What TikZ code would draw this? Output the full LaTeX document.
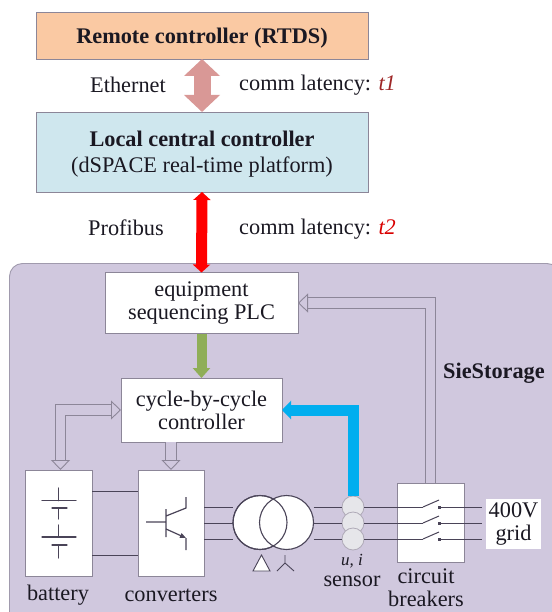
\documentclass[tikz,border=0pt]{standalone}
\usepackage{fontspec}
\setmainfont{Liberation Serif}
\usetikzlibrary{arrows.meta}
\definecolor{panelcol}{HTML}{D0C8DE}
\definecolor{edgecol}{HTML}{8C8698}
\definecolor{wirecol}{HTML}{4A4458}
\definecolor{inkcol}{HTML}{1A1822}
\tikzset{
  box/.style={shape=rectangle,draw=edgecol,fill=white,line width=.9pt,inner sep=0pt,outer sep=0pt,align=center,text=inkcol},
  label/.style={inner sep=0pt,align=center,text=inkcol},
  wire/.style={draw=wirecol,line width=1pt},
  hollow/.style={draw=edgecol,line width=.9pt,double=panelcol,double distance=9.5pt,>={Triangle[length=10pt,width=19pt,fill=panelcol]}},
  sensor/.style={shape=circle,draw=edgecol!70!white,fill=blue!10!gray!18!white,line width=.8pt,minimum size=22pt,inner sep=0pt,outer sep=0pt},
  winding/.style={shape=circle,draw=wirecol,line width=1.1pt,minimum size=54pt,inner sep=0pt,outer sep=0pt},
  contact/.style={shape=rectangle,fill=wirecol,minimum size=3pt,inner sep=0pt},
}
\begin{document}
\begin{tikzpicture}[x=1pt,y=-1pt,font=\fontsize{22.3}{23}\selectfont]
            \useasboundingbox (0,0) rectangle (551,612);
            \fill[panelcol,draw=edgecol!70!panelcol,line width=.9pt,rounded corners=13pt] (9.5,263.5) rectangle (560,625);
            \node[box,fill={rgb,255:red,250;green,201;blue,163},minimum width=332pt,minimum height=47pt,font=\fontsize{22.3}{23}\selectfont\bfseries](Remote)at(202, 35.5){\rule{0pt}{20pt}Remote controller (RTDS)};
            \node[box,fill={rgb,255:red,207;green,231;blue,238},minimum width=332pt,minimum height=80pt,font=\fontsize{22.3}{26}\selectfont](Local)at(202, 152){\rule{0pt}{20pt}\textbf{Local central controller}\\(dSPACE real-time platform)};
            \node[box,minimum width=193pt,minimum height=61pt](PLC)at(201.5, 303){equipment\\sequencing PLC};
            \node[box,minimum width=161pt,minimum height=64pt](Cycle)at(201.5, 410){cycle-by-cycle\\controller};
            \node[box,minimum width=67pt,minimum height=106pt](Battery)at(58.5, 523){};
            \node[box,minimum width=66pt,minimum height=106pt](Conv)at(171, 523){};
            \node[box,minimum width=67pt,minimum height=79pt](Breakers)at(430.5, 522.5){};
            \node[box,draw=none,minimum width=55pt,minimum height=50pt](Grid)at(513.5, 524){400V\\grid};
            % transformer
            \node[winding,fill=white](T1)at(260, 522.5){};
            \node[winding,fill=white](T2)at(286.5, 522.5){};
            \node[winding](T1b)at(260, 522.5){};
            % current and voltage sensor
            \node[sensor](S1)at(353, 507){};
            \node[sensor](S2)at(353, 523){};
            \node[sensor](S3)at(353, 539){};
            \coordinate(B1)at(423, 507);
            \coordinate(B2)at(423, 523);
            \coordinate(B3)at(423, 539);
            \coordinate(E1)at(439, 500);
            \coordinate(E2)at(439, 516);
            \coordinate(E3)at(439, 532);
            \node[contact](K1)at(439, 507){};
            \node[contact](K2)at(439, 523){};
            \node[contact](K3)at(439, 539){};
            \coordinate(G1)at(482, 507);
            \coordinate(G2)at(482, 523);
            \coordinate(G3)at(482, 539);
            \path[wire]([yshift=-32pt]Battery.east) edge ([yshift=-32pt]Conv.west)
            ([yshift=32pt]Battery.east) edge ([yshift=32pt]Conv.west)
            (Conv.east |- S1) edge (T1.west |- S1)
            (Conv.east |- S2) edge (T1.west |- S2)
            (Conv.east |- S3) edge (T1.west |- S3)
            (T2.east |- S1) edge (S1)
            (T2.east |- S2) edge (S2)
            (T2.east |- S3) edge (S3)
            (S1) edge (B1)
            (S2) edge (B2)
            (S3) edge (B3)
            (B1) edge (E1)
            (B2) edge (E2)
            (B3) edge (E3)
            (K1) edge (G1)
            (K2) edge (G2)
            (K3) edge (G3);
            % links between the controllers
            \draw[draw={rgb,255:red,217;green,152;blue,150},line width=17pt,{Triangle[length=17pt,width=35pt]}-{Triangle[length=17pt,width=35pt]}](Remote.south) -- (Local.north);
            \draw[draw=red,line width=11pt,{Triangle[length=8pt,width=17pt]}-{Triangle[length=8pt,width=17pt]}](Local.south) -- (PLC.north);
            \draw[draw={rgb,255:red,143;green,174;blue,88},line width=10pt,-{Triangle[length=10pt,width=17pt]}](PLC.south) -- (Cycle.north);
            \draw[draw={rgb,255:red,0;green,174;blue,239},line width=11pt,-{Triangle[length=9pt,width=18pt]}](S1.north) |- (Cycle.east);
            \draw[hollow,->](Breakers.north) |- (PLC.east);
            \draw[hollow,<->]([xshift=2pt]Battery.north) |- (Cycle.west);
            \draw[hollow,<-](Conv.north) -- (Conv.north |- Cycle.south);
            % battery cells
            \draw[wire,line cap=round,line width=1.2pt](58.7,488) -- (58.7,500.7) (42,500.7) -- (76,500.7) (52,508) -- (67,508) (58.7,508) -- (58.7,519)
            (58.7,525) -- (58.7,537) (42,537) -- (76,537) (52,545) -- (67,545) (58.7,545) -- (58.7,558);
            % igbt
            \draw[wire,line width=1.2pt](146,522) -- (166,522) (166,509) -- (166,537) (166,516) -- (186,508) -- (186,497) (186,538) -- (186,550);
            \draw[wire,line width=1.2pt,-{Triangle[length=6pt,width=5pt]}](166,529) -- (186,538);
            % delta and wye marks
            \draw[draw=wirecol,fill=white,line width=.9pt](261.5,555) -- (270,571) -- (253,571) -- cycle;
            \draw[wire,line width=.9pt](285,555) -- (285,563) (277,571) -- (285,563) -- (294,571);
            \node[label](Ethernet)at(128, 85){Ethernet};
            \node[label,anchor=west](Lat1)at(239, 85){comm latency: \textit{\textcolor{red!55!black!85!white}{t1}}};
            \node[label](Profibus)at(126, 228){Profibus};
            \node[label,anchor=west](Lat2)at(239, 229){comm latency: \textit{\textcolor{red!85!black}{t2}}};
            \node[label,font=\fontsize{22.3}{23}\selectfont\bfseries](Sie)at(494, 373){SieStorage};
            \node[label,font=\fontsize{17}{20}\selectfont\itshape](UI)at(352, 561){u, i};
            \node[label](SensorText)at(352, 581){sensor};
            \node[label](BreakerText)at(426, 588){circuit\\breakers};
            \node[label](BatteryText)at(58, 595){battery};
            \node[label](ConvText)at(171, 595){converters};
        \end{tikzpicture}
\end{document}
